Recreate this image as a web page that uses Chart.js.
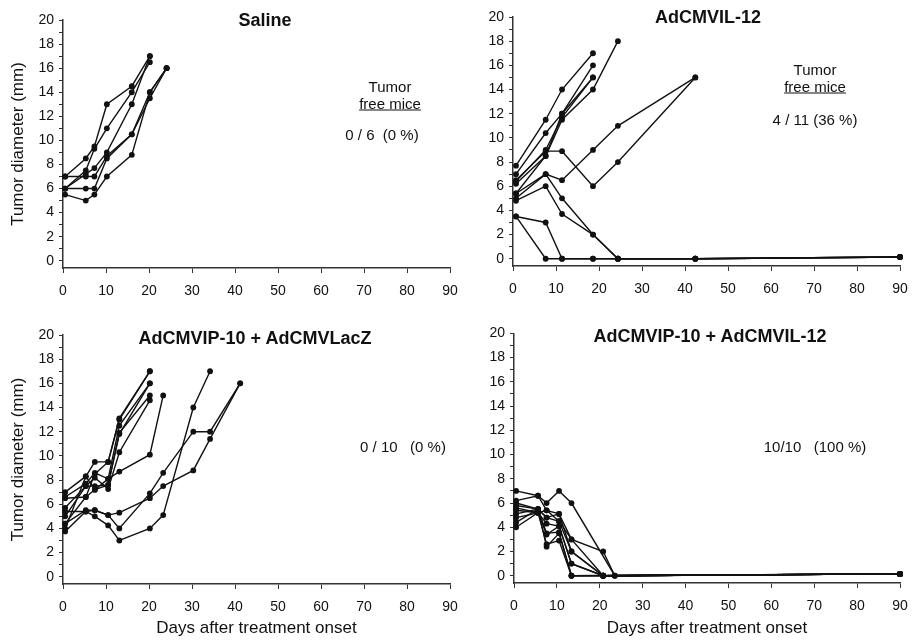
<!DOCTYPE html>
<html>
<head>
<meta charset="utf-8">
<script src="https://cdn.jsdelivr.net/npm/chart.js@4.4.1/dist/chart.umd.min.js"></script>
<style>
  body { margin: 0; background: #fff; }
  #page { position: relative; width: 921px; height: 640px; font-family: Arial, "Liberation Sans", sans-serif; color: #111; }
  canvas { position: absolute; }
  .lbl { position: absolute; transform: translate(-50%, -50%); white-space: pre; font-size: 15px; }
  .ttl { font-weight: bold; font-size: 18px; }
  .ul { text-decoration: underline; }
</style>
</head>
<body>
<div id="page">
  <canvas id="saline" width="468" height="320" style="left:0;top:0"></canvas>
  <canvas id="il12" width="461" height="320" style="left:460px;top:0"></canvas>
  <canvas id="lacz" width="468" height="320" style="left:0;top:320px"></canvas>
  <canvas id="combo" width="461" height="320" style="left:460px;top:320px"></canvas>

  <div class="lbl ttl" style="left:265px;top:20px">Saline</div>
  <div class="lbl" style="left:390px;top:86px">Tumor</div>
  <div class="lbl ul" style="left:390px;top:103px">free mice</div>
  <div class="lbl" style="left:382px;top:134px">0 / 6  (0 %)</div>

  <div class="lbl ttl" style="left:708px;top:17px">AdCMVIL-12</div>
  <div class="lbl" style="left:815px;top:69px">Tumor</div>
  <div class="lbl ul" style="left:815px;top:86px">free mice</div>
  <div class="lbl" style="left:815px;top:119px">4 / 11 (36 %)</div>

  <div class="lbl ttl" style="left:255px;top:338px">AdCMVIP-10 + AdCMVLacZ</div>
  <div class="lbl" style="left:403px;top:446px">0 / 10   (0 %)</div>

  <div class="lbl ttl" style="left:710px;top:336px">AdCMVIP-10 + AdCMVIL-12</div>
  <div class="lbl" style="left:815px;top:446px">10/10   (100 %)</div>
</div>
<script>
// each mouse = list of [day, tumor diameter mm]
const salineMice = [
  [[0.5, 7], [5.3, 8.5], [7.3, 9.5], [10.2, 13], [16, 14.5], [20.2, 17]],
  [[0.5, 6], [5.3, 7.5], [7.3, 9.3], [10.2, 11], [16, 14], [20.2, 16.5]],
  [[0.5, 6], [5.3, 7.2], [7.3, 7.7], [10.2, 9], [16, 13], [20.2, 17]],
  [[0.5, 7], [5.3, 7], [7.3, 7], [10.2, 8.7], [16, 10.5], [20.2, 13.5], [24.1, 16]],
  [[0.5, 6], [5.3, 6], [7.3, 6], [10.2, 8.5], [16, 10.5], [20.2, 14], [24.1, 16]],
  [[0.5, 5.5], [5.3, 5], [7.3, 5.5], [10.2, 7], [16, 8.8], [20.2, 14], [24.1, 16]]
];

const il12Mice = [
  [[0.7, 7.7], [7.6, 11.5], [11.4, 14], [18.6, 17]],
  [[0.7, 7], [7.6, 10.4], [11.4, 12], [18.6, 16]],
  [[0.7, 6.4], [7.6, 9], [11.4, 11.7], [18.6, 15]],
  [[0.7, 6.2], [7.6, 8.5], [11.4, 11.5], [18.6, 14], [24.4, 18]],
  [[0.7, 5.4], [7.6, 8.5], [11.4, 12], [18.6, 15]],
  [[0.7, 6.5], [7.6, 8.9], [11.4, 8.9], [18.6, 6], [24.4, 8], [42.4, 15]],
  [[0.7, 5.4], [7.6, 7], [11.4, 6.5], [18.6, 9], [24.4, 11], [42.4, 15]],
  [[0.7, 5], [7.6, 7], [11.4, 5], [18.6, 2], [24.4, 0], [42.4, 0], [90, 0.15]],
  [[0.7, 4.8], [7.6, 6], [11.4, 3.7], [18.6, 2], [24.4, 0], [42.4, 0], [90, 0.15]],
  [[0.7, 3.5], [7.6, 3], [11.4, 0], [18.6, 0], [24.4, 0], [42.4, 0], [90, 0.15]],
  [[0.7, 3.5], [7.6, 0], [11.4, 0], [18.6, 0], [24.4, 0], [42.4, 0], [90, 0.15]]
];

const laczMice = [
  [[0.5, 7], [5.3, 8.3], [7.4, 9.5], [10.5, 9.5], [13.1, 13.1], [20.2, 17]],
  [[0.5, 6.6], [5.3, 7.7], [7.4, 8.6], [10.5, 8.1], [13.1, 12.5], [20.2, 16]],
  [[0.5, 5.7], [5.3, 7.5], [7.4, 7.5], [10.5, 7.6], [13.1, 11.9], [20.2, 15]],
  [[0.5, 5], [5.3, 7.5], [7.4, 8.2], [10.5, 7.25], [13.1, 10.3], [20.2, 14.6]],
  [[0.5, 4.4], [5.3, 6.6], [7.4, 7.2], [10.5, 8.1], [13.1, 8.7], [20.2, 10.1], [23.3, 15]],
  [[0.5, 4], [5.3, 8.3], [7.4, 7.2], [10.5, 7.6], [13.1, 11.8], [20.2, 16]],
  [[0.5, 6.5], [5.3, 6.6], [7.4, 8.5], [10.5, 9.5], [13.1, 13], [20.2, 17]],
  [[0.5, 5.4], [5.3, 5.4], [7.4, 5.5], [10.5, 5.1], [13.1, 5.3], [20.2, 6.5], [23.3, 7.5], [30.3, 8.8], [34.2, 11.4], [41.2, 16]],
  [[0.5, 3.75], [5.3, 5.4], [7.4, 5], [10.5, 4.25], [13.1, 3], [20.2, 4], [23.3, 5.1], [30.3, 14], [34.2, 17]],
  [[0.5, 4.4], [5.3, 5.5], [7.4, 5.5], [10.5, 5.1], [13.1, 4], [20.2, 6.9], [23.3, 8.6], [30.3, 12], [34.2, 12], [41.2, 16]]
];

const comboMice = [
  [[0.5, 7], [5.6, 6.6], [7.6, 6], [10.5, 7], [13.4, 6], [23.5, 0], [90, 0.15]],
  [[0.5, 6.2], [5.6, 6.6], [7.6, 5.4], [10.5, 5.1], [13.4, 3], [20.8, 2], [23.5, 0], [90, 0.15]],
  [[0.5, 5.8], [5.6, 5.5], [7.6, 4.8], [10.5, 4.5], [13.4, 2], [20.8, 0], [90, 0.15]],
  [[0.5, 5.4], [5.6, 5.2], [7.6, 4.3], [10.5, 4.1], [13.4, 1], [20.8, 0], [90, 0.15]],
  [[0.5, 5.1], [5.6, 5.5], [7.6, 3.5], [10.5, 3.6], [13.4, 0], [20.8, 0], [90, 0.15]],
  [[0.5, 4.8], [5.6, 5.2], [7.6, 2.6], [10.5, 2.9], [13.4, 0], [90, 0.15]],
  [[0.5, 4.4], [5.6, 5.5], [7.6, 2.4], [10.5, 3.5], [13.4, 0], [90, 0.15]],
  [[0.5, 4], [5.6, 5.2], [7.6, 5.4], [10.5, 4.5], [13.4, 3], [20.8, 0], [90, 0.15]],
  [[0.5, 6], [5.6, 5.5], [7.6, 4.8], [10.5, 5.1], [13.4, 2], [20.8, 0], [90, 0.15]],
  [[0.5, 5.6], [5.6, 5.2], [7.6, 3.4], [10.5, 4.1], [13.4, 1], [20.8, 0], [90, 0.15]]
];

const yTitle = 'Tumor diameter (mm)';
const xTitle = 'Days after treatment onset';
const fontFamily = 'Arial, "Liberation Sans", sans-serif';

function drawPanel(id, mice, cfg) {
  const ctx = document.getElementById(id).getContext('2d');

  const datasets = mice.map(m => ({
    data: m.map(p => ({ x: p[0], y: p[1] })),
    borderColor: '#111',
    backgroundColor: '#111',
    borderWidth: 1.4,
    pointRadius: 2.9,
    pointBorderWidth: 0,
    tension: 0,
    clip: false
  }));

  return new Chart(ctx, {
    type: 'line',
    data: { datasets: datasets },
    options: {
      responsive: false,
      animation: false,
      layout: { padding: { top: cfg.top, right: cfg.right, left: 0, bottom: 0 } },
      plugins: {
        legend: { display: false },
        tooltip: { enabled: false }
      },
      scales: {
        x: {
          type: 'linear',
          min: 0,
          max: 90,
          ticks: { stepSize: 10, padding: 10, color: '#111', maxRotation: 0, font: { size: 14, family: fontFamily } },
          grid: { drawOnChartArea: false, tickLength: 5, color: '#333' },
          border: { color: '#333', width: 1.5 },
          title: {
            display: cfg.xTitle,
            text: xTitle,
            color: '#111',
            padding: { top: 0, bottom: 1 },
            font: { size: 17, family: fontFamily }
          },
          afterFit: s => { s.height = cfg.xh; }
        },
        y: {
          min: -0.6,
          max: 20,
          ticks: {
            stepSize: 1,
            includeBounds: false,
            autoSkip: false,
            padding: 5,
            color: '#111',
            font: { size: 14, family: fontFamily },
            callback: v => (v % 2 === 0 ? v : '')
          },
          grid: { drawOnChartArea: false, tickLength: 4, color: '#333' },
          border: { color: '#333', width: 1.5 },
          title: {
            display: cfg.yTitle,
            text: yTitle,
            color: '#111',
            padding: { top: 8, bottom: 0 },
            font: { size: 17, family: fontFamily }
          },
          afterFit: s => { s.width = cfg.yw; }
        }
      }
    }
  });
}

drawPanel('saline', salineMice, { top: 20, right: 18, xh: 52, yw: 63, yTitle: true, xTitle: false });
drawPanel('il12', il12Mice, { top: 17, right: 21, xh: 54, yw: 53, yTitle: false, xTitle: false });
drawPanel('lacz', laczMice, { top: 15, right: 18, xh: 56, yw: 63, yTitle: true, xTitle: true });
drawPanel('combo', comboMice, { top: 13, right: 21, xh: 57, yw: 54, yTitle: false, xTitle: true });
</script>
</body>
</html>
